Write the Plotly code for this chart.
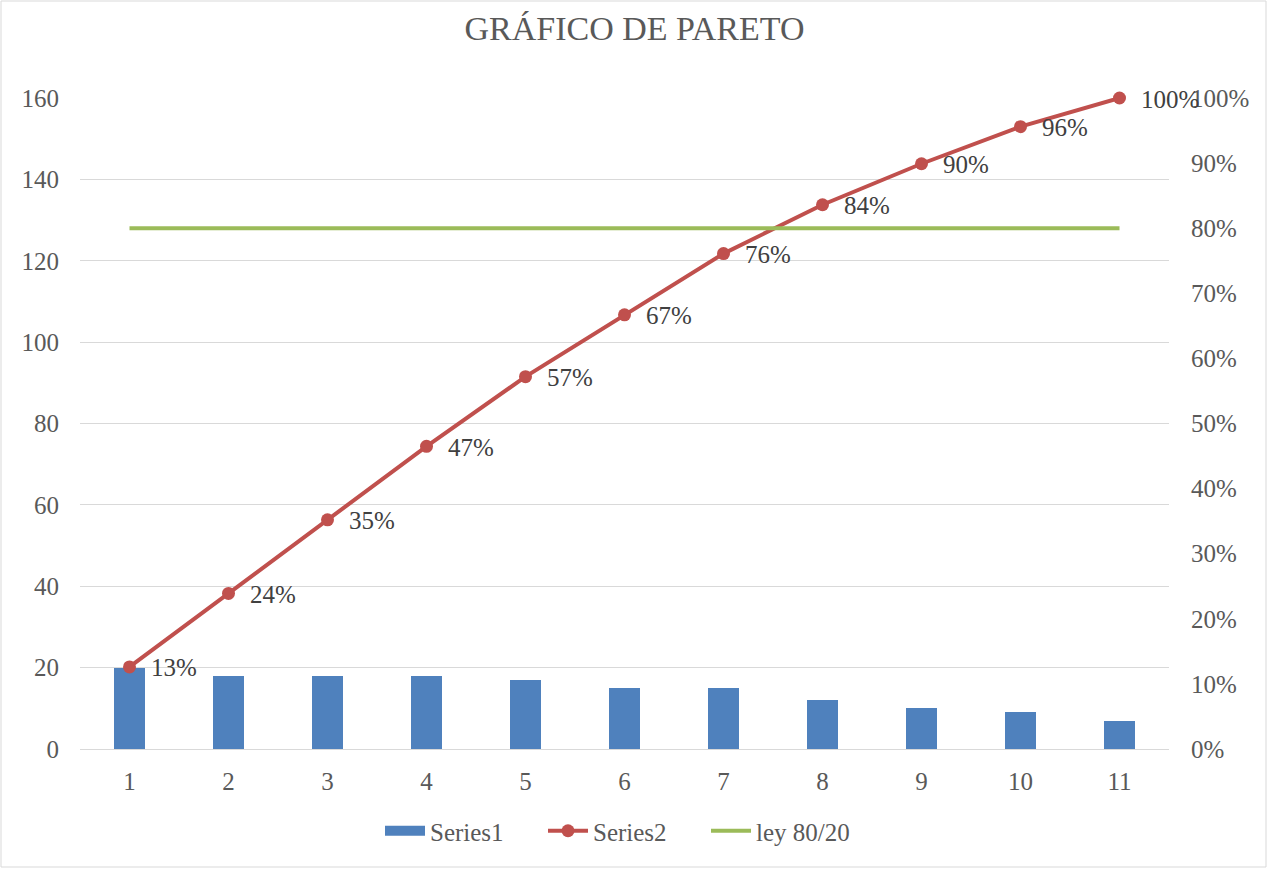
import plotly.graph_objects as go

categories = [1, 2, 3, 4, 5, 6, 7, 8, 9, 10, 11]
series1 = [20, 18, 18, 18, 17, 15, 15, 12, 10, 9, 7]
series2 = [0.126, 0.239, 0.352, 0.465, 0.572, 0.667, 0.761, 0.836, 0.899, 0.956, 1.0]
series2_labels = ["13%", "24%", "35%", "47%", "57%", "67%", "76%", "84%", "90%", "96%", "100%"]
ley = [0.8, 0.8, 0.8, 0.8, 0.8, 0.8, 0.8, 0.8, 0.8, 0.8, 0.8]
left_ticks = [0, 20, 40, 60, 80, 100, 120, 140, 160]
right_ticks = [0, 0.1, 0.2, 0.3, 0.4, 0.5, 0.6, 0.7, 0.8, 0.9, 1.0]

FONT = "Liberation Serif"
GRAY = "#595959"
FS = 25

fig = go.Figure()
fig.add_trace(go.Bar(
    x=categories, y=series1, name="Series1",
    marker=dict(color="#4F81BD", line=dict(width=0)),
    width=0.32, showlegend=False,
))
# legend swatch for Series1 (wide rectangle like the original)
fig.add_trace(go.Scatter(
    x=[None], y=[None], name="Series1", mode="lines",
    line=dict(color="#4F81BD", width=12),
))
fig.add_trace(go.Scatter(
    x=categories, y=series2, name="Series2", yaxis="y2",
    mode="lines+markers",
    line=dict(color="#C0504D", width=4),
    marker=dict(color="#C0504D", size=13),
    cliponaxis=False,
))
fig.add_trace(go.Scatter(
    x=categories, y=ley, name="ley 80/20", yaxis="y2",
    mode="lines",
    line=dict(color="#9BBB59", width=4),
))

annotations = [
    dict(x=c, y=v, xref="x", yref="y2", text=t, showarrow=False,
         xanchor="left", yanchor="middle", xshift=19, yshift=-1,
         font=dict(family=FONT, size=FS, color="#404040"))
    for c, v, t in zip(categories, series2, series2_labels)
]

fig.update_layout(
    width=1269, height=869,
    margin=dict(l=80, r=100, t=98, b=120),
    paper_bgcolor="white", plot_bgcolor="white",
    font=dict(family=FONT, size=FS, color=GRAY),
    title=dict(text="GRÁFICO DE PARETO", x=0.5, xanchor="center",
               y=1 - 28 / 869, yanchor="middle",
               font=dict(family=FONT, size=34, color=GRAY)),
    xaxis=dict(range=[0.5, 11.5], tickvals=categories, ticks="",
               showgrid=False, zeroline=False, showline=True,
               linecolor="#D9D9D9", linewidth=1, ticklabelstandoff=10,
               tickfont=dict(size=FS, color=GRAY)),
    yaxis=dict(range=[0, 160], tickvals=left_ticks, ticks="",
               showgrid=True, gridcolor="#D9D9D9", gridwidth=1,
               zeroline=False, showline=False, ticklabelstandoff=20,
               tickfont=dict(size=FS, color=GRAY)),
    yaxis2=dict(range=[0, 1], tickvals=right_ticks, tickformat=".0%",
                overlaying="y", side="right", ticks="", showgrid=False,
                zeroline=False, showline=False, ticklabelstandoff=21,
                tickfont=dict(size=FS, color=GRAY)),
    legend=dict(orientation="h", x=0.5, xanchor="center",
                y=-(831 - 749) / 651, yanchor="middle",
                font=dict(size=FS, color=GRAY), itemwidth=40,
                entrywidth=108, traceorder="normal"),
    annotations=annotations,
    bargap=0,
    shapes=[dict(type="rect", xref="paper", yref="paper",
                 x0=-79 / 1089, x1=1 + 97 / 1089,
                 y0=-118 / 651, y1=1 + 97 / 651,
                 line=dict(color="#D9D9D9", width=1), layer="below")],
)

fig.write_html("out.html", config={"displayModeBar": False},
               post_script="document.body.style.margin='0';")
